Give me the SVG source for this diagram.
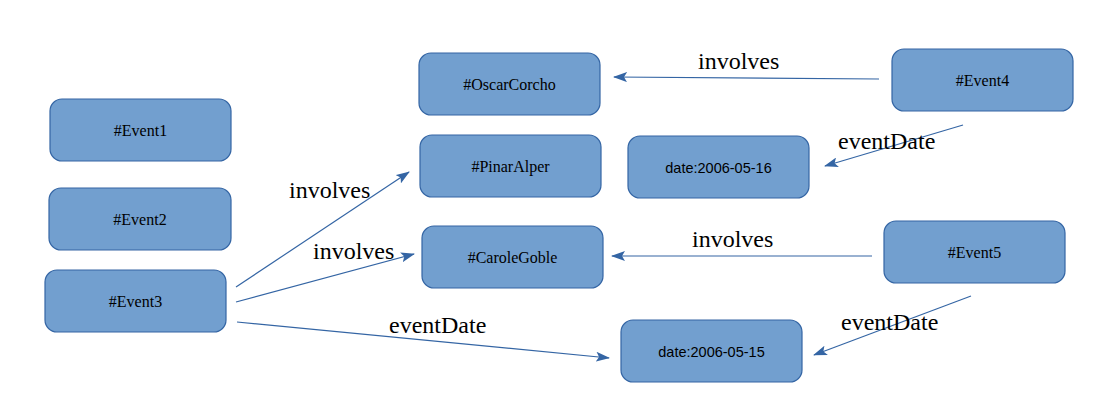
<svg xmlns="http://www.w3.org/2000/svg" width="1114" height="415" viewBox="0 0 1114 415">
<defs>
<marker id="ah" markerWidth="14" markerHeight="10" refX="13" refY="5" orient="auto" markerUnits="userSpaceOnUse">
<path d="M0,0 L14,5 L0,10 L3,5 Z" fill="#3465a4"/>
</marker>
<style>
.n rect{fill:#729fcf;stroke:#3465a4;stroke-width:1.2}
.n text{font-family:"Liberation Serif",serif;font-size:16px;fill:#000;text-anchor:middle}
.n text.d{font-family:"Liberation Sans",sans-serif;font-size:14.5px}
.c line{stroke:#3465a4;stroke-width:1.2;marker-end:url(#ah)}
.l{font-family:"Liberation Serif",serif;font-size:24px;fill:#000}
</style>
</defs>
<rect width="1114" height="415" fill="#fff"/>
<g id="Event1" class="n"><rect x="50" y="99" width="181" height="62" rx="12"/><text x="140.5" y="136">#Event1</text></g>
<g id="Event2" class="n"><rect x="49" y="188" width="182" height="62" rx="12"/><text x="140" y="225">#Event2</text></g>
<g id="Event3" class="n"><rect x="45" y="270" width="181" height="62" rx="12"/><text x="135.5" y="307">#Event3</text></g>
<g id="OscarCorcho" class="n"><rect x="419" y="53" width="181" height="62" rx="12"/><text x="509.5" y="90">#OscarCorcho</text></g>
<g id="PinarAlper" class="n"><rect x="420" y="135" width="181" height="62" rx="12"/><text x="510.5" y="172">#PinarAlper</text></g>
<g id="CaroleGoble" class="n"><rect x="422" y="226" width="181" height="62" rx="12"/><text x="512.5" y="263">#CaroleGoble</text></g>
<g id="Date16" class="n"><rect x="628" y="136" width="181" height="62" rx="12"/><text class="d" x="718.5" y="173">date:2006-05-16</text></g>
<g id="Event4" class="n"><rect x="892" y="49" width="181" height="62" rx="12"/><text x="982.5" y="86">#Event4</text></g>
<g id="Event5" class="n"><rect x="884" y="221" width="181" height="62" rx="12"/><text x="974.5" y="258">#Event5</text></g>
<g id="Date15" class="n"><rect x="621" y="320" width="181" height="62" rx="12"/><text class="d" x="711.5" y="357">date:2006-05-15</text></g>
<g id="connectors" class="c">
<line x1="879" y1="79" x2="614" y2="77"/>
<line x1="963" y1="125" x2="825" y2="166"/>
<line x1="872" y1="256" x2="612" y2="256"/>
<line x1="971" y1="296" x2="814" y2="355"/>
<line x1="236" y1="287" x2="409" y2="172"/>
<line x1="236" y1="302" x2="414" y2="254"/>
<line x1="237" y1="322" x2="609" y2="358"/>
</g>
<g id="labels">
<text class="l" x="698" y="69">involves</text>
<text class="l" x="838" y="149">eventDate</text>
<text class="l" x="692" y="247">involves</text>
<text class="l" x="841" y="330">eventDate</text>
<text class="l" x="289" y="198">involves</text>
<text class="l" x="313" y="259">involves</text>
<text class="l" x="389" y="333">eventDate</text>
</g>
</svg>
